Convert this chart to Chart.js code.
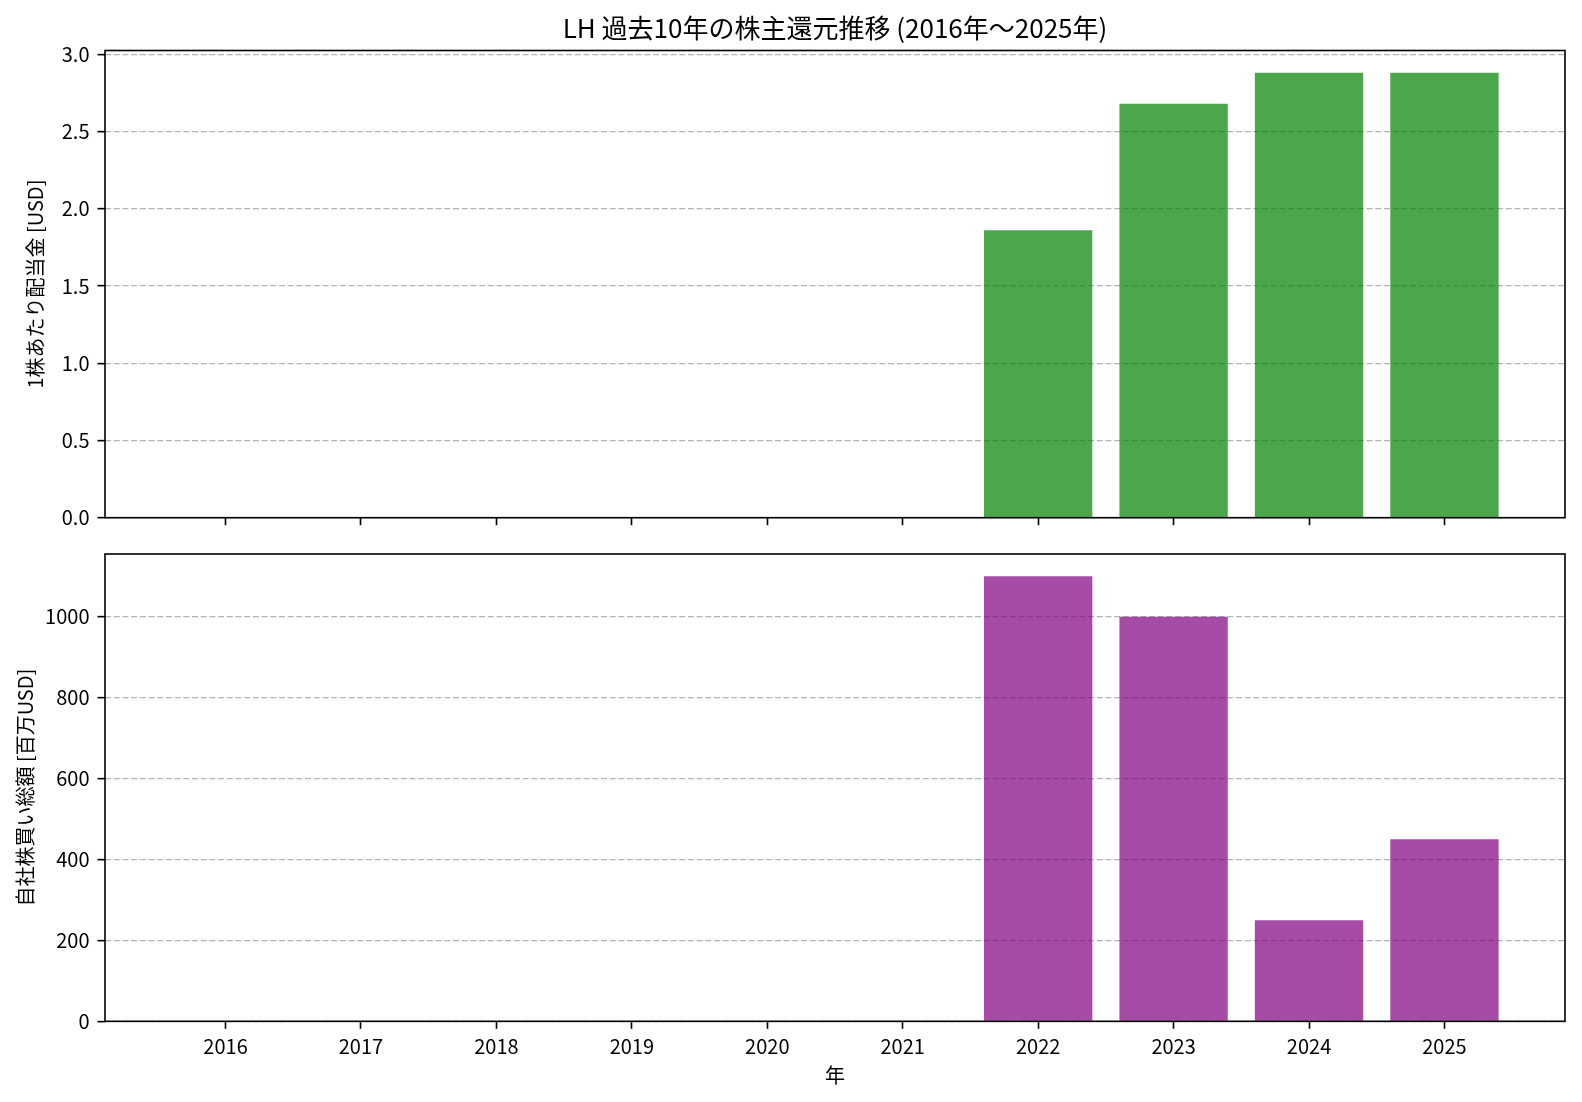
<!DOCTYPE html>
<html><head><meta charset="utf-8">
<script src="https://cdn.jsdelivr.net/npm/chart.js@4.4.1/dist/chart.umd.min.js"></script>
<style>
html,body{margin:0;padding:0;background:#fff;}
#wrap{position:relative;width:1582px;height:1102px;background:#fff;}
canvas{position:absolute;left:0;top:0;}
</style></head><body>
<div id="wrap"><canvas id="c1" width="1582" height="1102"></canvas><canvas id="c2" width="1582" height="1102"></canvas></div>
<script>
const years = ['2016','2017','2018','2019','2020','2021','2022','2023','2024','2025'];
const dividends = [0, 0, 0, 0, 0, 0, 1.86, 2.68, 2.88, 2.88];
const buybacks = [0, 0, 0, 0, 0, 0, 1100, 1000, 250, 450];
const dividendTicks = [0, 0.5, 1.0, 1.5, 2.0, 2.5, 3.0];
const buybackTicks = [0, 200, 400, 600, 800, 1000];
const chartTitle = 'LH 過去10年の株主還元推移 (2016年〜2025年)';
const dividendLabel = '1株あたり配当金 [USD]';
const buybackLabel = '自社株買い総額 [百万USD]';
const xLabel = '年';

Chart.defaults.font.family = "'Noto Sans CJK JP', 'Noto Sans', sans-serif";
Chart.defaults.color = '#000';

const FONT = {size: 20, lineHeight: 1.2};
const GRID_COLOR = '#b4b4b4';

const boxPlugin = {
  id: 'box',
  afterDraw(chart) {
    const {ctx, chartArea: a} = chart;
    ctx.save();
    ctx.strokeStyle = '#000';
    ctx.lineWidth = 1.6;
    ctx.strokeRect(a.left, a.top, a.right - a.left, a.bottom - a.top);
    ctx.restore();
  }
};

const lo = -0.4, hi = years.length - 1 + 0.4, pad = (hi - lo) * 0.05;

function xScale(showLabels, height) {
  return {
    type: 'linear',
    min: lo - pad,
    max: hi + pad,
    offset: false,
    afterBuildTicks: s => { s.ticks = years.map((y, i) => ({value: i})); },
    afterFit: s => { s.height = height; },
    grid: {offset: false, drawOnChartArea: false, drawTicks: true, tickLength: 7.5, tickColor: '#000', tickWidth: 1.6, tickBorderDash: []},
    border: {display: false},
    ticks: {display: showLabels, autoSkip: false, maxRotation: 0, padding: 6, font: FONT,
      callback: v => years[Math.round(v)]},
    title: {display: showLabels, text: xLabel, font: FONT, padding: {top: 0, bottom: 14.3}}
  };
}

function yScale(max, tickVals, label, titlePad, fmt) {
  return {
    min: 0,
    max: max,
    z: 1,
    afterBuildTicks: s => { s.ticks = tickVals.map(v => ({value: v})); },
    afterFit: s => { s.width = 105; },
    grid: {color: GRID_COLOR, lineWidth: 1.3, drawTicks: true, tickLength: 7.5, tickColor: '#000', tickWidth: 1.6, tickBorderDash: []},
    border: {display: false, dash: [6, 2.7]},
    ticks: {padding: 8, font: FONT, callback: fmt},
    title: {display: true, text: label, font: FONT, padding: {top: titlePad, bottom: 0}}
  };
}

new Chart(document.getElementById('c1'), {
  type: 'bar',
  data: {datasets: [{
    data: years.map((y, i) => ({x: i, y: dividends[i]})),
    backgroundColor: 'rgba(0,128,0,0.7)',
    borderWidth: 0,
    barPercentage: 0.8,
    categoryPercentage: 1.0
  }]},
  options: {
    responsive: false, animation: false, devicePixelRatio: 1,
    layout: {padding: {top: 0, left: 0, right: 17, bottom: 1102 - 517.7 - 10}},
    plugins: {
      legend: {display: false}, tooltip: {enabled: false},
      title: {display: true, fullSize: false, text: chartTitle, font: {size: 26, weight: 'normal', lineHeight: 1.2}, padding: {top: 13, bottom: 6.3}, color: '#000'}
    },
    scales: {
      x: xScale(false, 10),
      y: yScale(Math.max(...dividends) * 1.05, dividendTicks, dividendLabel, 23, v => v.toFixed(1))
    }
  },
  plugins: [boxPlugin]
});

new Chart(document.getElementById('c2'), {
  type: 'bar',
  data: {datasets: [{
    data: years.map((y, i) => ({x: i, y: buybacks[i]})),
    backgroundColor: 'rgba(128,0,128,0.7)',
    borderWidth: 0,
    barPercentage: 0.8,
    categoryPercentage: 1.0
  }]},
  options: {
    responsive: false, animation: false, devicePixelRatio: 1,
    layout: {padding: {top: 554, left: 0, right: 17, bottom: 1102 - 1021.3 - 80}},
    plugins: {legend: {display: false}, tooltip: {enabled: false}},
    scales: {
      x: xScale(true, 80),
      y: yScale(Math.max(...buybacks) * 1.05, buybackTicks, buybackLabel, 13, v => String(v))
    }
  },
  plugins: [boxPlugin]
});
</script>
</body></html>
